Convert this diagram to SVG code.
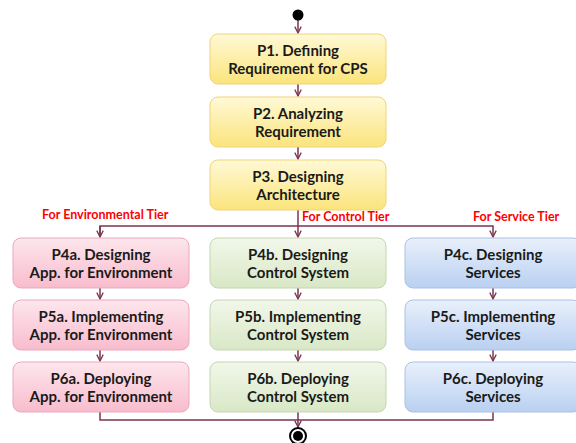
<svg xmlns="http://www.w3.org/2000/svg" width="576" height="443" viewBox="0 0 576 443">
<defs>
<linearGradient id="gy" x1="0" y1="0" x2="0" y2="1"><stop offset="0" stop-color="#fff9d6"/><stop offset="1" stop-color="#fbe47c"/></linearGradient>
<linearGradient id="gp" x1="0" y1="0" x2="0" y2="1"><stop offset="0" stop-color="#fde6ec"/><stop offset="1" stop-color="#f8bccd"/></linearGradient>
<linearGradient id="gg" x1="0" y1="0" x2="0" y2="1"><stop offset="0" stop-color="#f2f7ea"/><stop offset="1" stop-color="#d8e8c6"/></linearGradient>
<linearGradient id="gb" x1="0" y1="0" x2="0" y2="1"><stop offset="0" stop-color="#e9f0fb"/><stop offset="1" stop-color="#b9d0f1"/></linearGradient>
<marker id="ah" viewBox="0 0 10 10" refX="9" refY="5" markerWidth="8" markerHeight="8" markerUnits="userSpaceOnUse" orient="auto">
<path d="M1,1 L9,5 L1,9" fill="none" stroke="#7b3550" stroke-width="1.6"/>
</marker>
<style>
.y{fill:url(#gy);stroke:#f1d37a;stroke-width:1}
.p{fill:url(#gp);stroke:#eaa9bb;stroke-width:1}
.g{fill:url(#gg);stroke:#c5d6b0;stroke-width:1}
.b{fill:url(#gb);stroke:#a9c2e4;stroke-width:1}
.t{font-family:Lato,"Liberation Sans",sans-serif;font-weight:bold;font-size:15px;fill:#1a1a1a;text-anchor:middle}
.r{font-family:Lato,"Liberation Sans",sans-serif;font-weight:bold;font-size:12.5px;fill:#ff0000}
.c{fill:none;stroke:#7b3550;stroke-width:1.5}
</style>
</defs>
<g id="connectors">
<path class="c" d="M298,20 V33" marker-end="url(#ah)"/>
<path class="c" d="M298,84 V96" marker-end="url(#ah)"/>
<path class="c" d="M298,147 V159" marker-end="url(#ah)"/>
<path class="c" d="M298,210 V237" marker-end="url(#ah)"/>
<path class="c" d="M100,237 V226 H493 V237" marker-end="url(#ah)"/>
<path class="c" d="M100,226 V237" marker-end="url(#ah)"/>
<path class="c" d="M100,288 V299" marker-end="url(#ah)"/>
<path class="c" d="M298,288 V299" marker-end="url(#ah)"/>
<path class="c" d="M493,288 V299" marker-end="url(#ah)"/>
<path class="c" d="M100,350 V361" marker-end="url(#ah)"/>
<path class="c" d="M298,350 V361" marker-end="url(#ah)"/>
<path class="c" d="M493,350 V361" marker-end="url(#ah)"/>
<path class="c" d="M100,412 V420 H493 V411"/>
<path class="c" d="M298,412 V427" marker-end="url(#ah)"/>
<text class="r" x="42" y="219">For Environmental Tier</text>
<text class="r" x="302" y="221">For Control Tier</text>
<text class="r" x="473" y="221">For Service Tier</text>
</g>
<g id="start"><circle cx="298" cy="15" r="5.5" fill="#000"/></g>
<g id="end"><circle cx="298" cy="436" r="8" fill="#fff" stroke="#000" stroke-width="2"/><circle cx="298" cy="436" r="5" fill="#000"/></g>
<g id="P1"><rect class="y" x="210" y="34" width="176" height="50" rx="8"/><text class="t" x="298" y="56">P1. Defining</text><text class="t" x="298" y="74">Requirement for CPS</text></g>
<g id="P2"><rect class="y" x="210" y="97" width="176" height="50" rx="8"/><text class="t" x="298" y="119">P2. Analyzing</text><text class="t" x="298" y="137">Requirement</text></g>
<g id="P3"><rect class="y" x="210" y="160" width="176" height="50" rx="8"/><text class="t" x="298" y="182">P3. Designing</text><text class="t" x="298" y="200">Architecture</text></g>
<g id="P4a"><rect class="p" x="13" y="238" width="176" height="50" rx="8"/><text class="t" x="101" y="260">P4a. Designing</text><text class="t" x="101" y="278">App. for Environment</text></g>
<g id="P5a"><rect class="p" x="13" y="300" width="176" height="50" rx="8"/><text class="t" x="101" y="322">P5a. Implementing</text><text class="t" x="101" y="340">App. for Environment</text></g>
<g id="P6a"><rect class="p" x="13" y="362" width="176" height="50" rx="8"/><text class="t" x="101" y="384">P6a. Deploying</text><text class="t" x="101" y="402">App. for Environment</text></g>
<g id="P4b"><rect class="g" x="210" y="238" width="176" height="50" rx="8"/><text class="t" x="298" y="260">P4b. Designing</text><text class="t" x="298" y="278">Control System</text></g>
<g id="P5b"><rect class="g" x="210" y="300" width="176" height="50" rx="8"/><text class="t" x="298" y="322">P5b. Implementing</text><text class="t" x="298" y="340">Control System</text></g>
<g id="P6b"><rect class="g" x="210" y="362" width="176" height="50" rx="8"/><text class="t" x="298" y="384">P6b. Deploying</text><text class="t" x="298" y="402">Control System</text></g>
<g id="P4c"><rect class="b" x="405" y="238" width="176" height="50" rx="8"/><text class="t" x="493" y="260">P4c. Designing</text><text class="t" x="493" y="278">Services</text></g>
<g id="P5c"><rect class="b" x="405" y="300" width="176" height="50" rx="8"/><text class="t" x="493" y="322">P5c. Implementing</text><text class="t" x="493" y="340">Services</text></g>
<g id="P6c"><rect class="b" x="405" y="362" width="176" height="50" rx="8"/><text class="t" x="493" y="384">P6c. Deploying</text><text class="t" x="493" y="402">Services</text></g>
</svg>
